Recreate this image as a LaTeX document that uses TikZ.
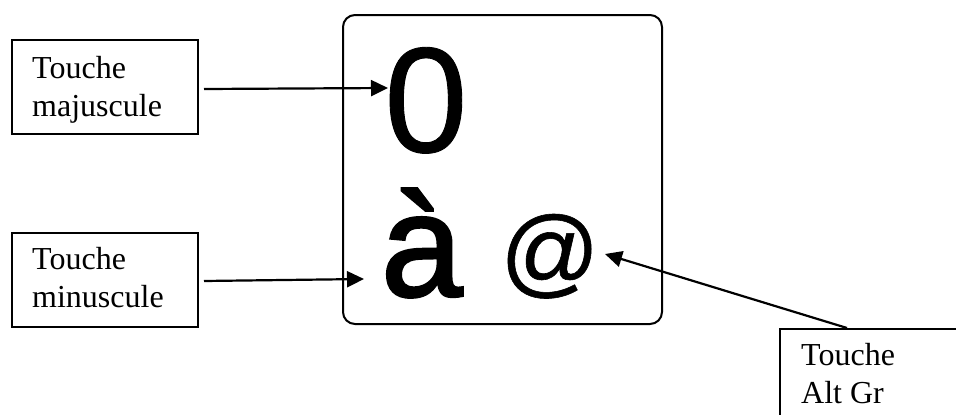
\documentclass[tikz,border=0pt]{standalone}
\usepackage{fontspec}
\setmainfont{Liberation Serif}
\newfontfamily\keyfont[FakeBold=0.6]{Liberation Sans}
\newfontfamily\keyfontbold[FakeBold=2]{Liberation Sans}
\usetikzlibrary{arrows.meta}
\begin{document}
\begin{tikzpicture}[x=1pt,y=-1pt,
  labelbox/.style={draw, line width=2pt, inner sep=0pt, anchor=north west},
  labeltext/.style={anchor=base west, inner sep=0pt, align=left, font=\fontsize{32}{38}\selectfont},
  arr/.style={line width=2.2pt, -{Triangle[length=17pt,width=16pt]}},
  keychar/.style={anchor=base west, inner sep=0pt}]
\useasboundingbox (0,0) rectangle (956,415);
\clip (0,0) rectangle (956,415);
% key
\node[draw, line width=2pt, rounded corners=12pt, inner sep=0pt, anchor=north west,
      minimum width=319pt, minimum height=309pt] (key) at (342,14) {};
\node[keychar, font=\keyfont\fontsize{150}{150}\selectfont] (zero) at (384,152) {0};
\node[keychar, font=\keyfontbold\fontsize{146}{146}\selectfont] (agrave) at (381,296) {à};
\node[keychar, font=\keyfont\fontsize{98}{98}\selectfont] (arob) at (500,285) {@};
% label boxes
\node[labelbox, minimum width=186pt, minimum height=94pt] (maj) at (11,39) {};
\node[labeltext] (majt) at (32,116) {Touche\\majuscule};
\node[labelbox, minimum width=186pt, minimum height=94pt] (min) at (11,232) {};
\node[labeltext] (mint) at (32,307) {Touche\\minuscule};
\node[labelbox, minimum width=200pt, minimum height=120pt] (alt) at (779,328) {};
\node[labeltext] (altt) at (801,403) {Touche\\Alt Gr};
% arrow tips
\coordinate (zerotip) at (388,88);
\coordinate (atip) at (364,279);
\coordinate (attip) at (605,254);
\draw[arr] ([xshift=5pt,yshift=-2pt]maj.east) -- (zerotip);
\draw[arr] ([xshift=5pt,yshift=-1pt]min.east) -- (atip);
\draw[arr] ([xshift=68pt]alt.north west) -- (attip);
\end{tikzpicture}
\end{document}
